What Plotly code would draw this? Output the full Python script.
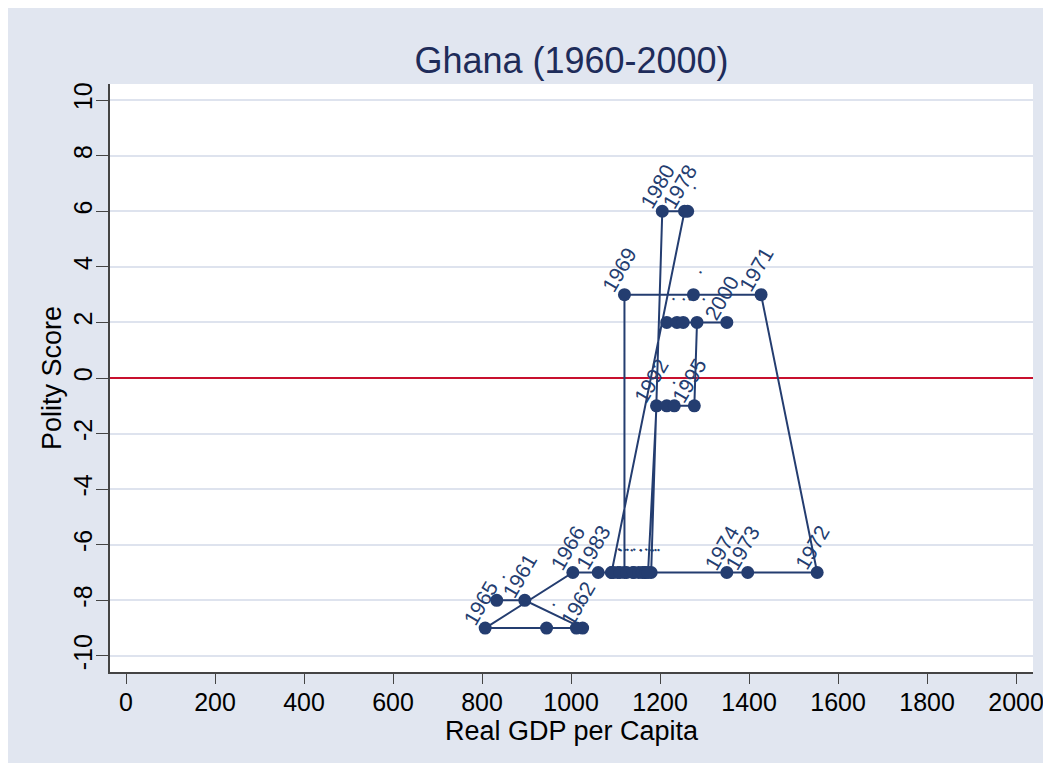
import plotly.graph_objects as go

# ---- data ----
years = list(range(1960, 2001))
gdp = [833, 896, 1026, 1012, 945, 807, 1004, 1091, 1120, 1120,
       1275, 1427, 1553, 1397, 1350, 1165, 1140, 1091, 1255, 1262,
       1205, 1180, 1105, 1061, 1095, 1110, 1125, 1140, 1152, 1160,
       1167, 1173, 1192, 1215, 1232, 1277, 1283, 1215, 1238, 1252,
       1350]
polity = [-8, -8, -9, -9, -9, -9, -7, -7, -7, 3,
          3, 3, -7, -7, -7, -7, -7, -7, 6, 6,
          6, -7, -7, -7, -7, -7, -7, -7, -7, -7,
          -7, -7, -1, -1, -1, -1, 2, 2, 2, 2,
          2]
labeled_years = [1961, 1962, 1965, 1966, 1969, 1971, 1972, 1973, 1974,
                 1978, 1980, 1983, 1992, 1995, 2000]
point_labels = [str(y) if y in labeled_years else "." for y in years]

x_ticks = list(range(0, 2001, 200))
y_ticks = list(range(-10, 11, 2))

NAVY = "#243D70"
BG = "#E1E6F0"
FONT = "Liberation Sans, Arial, sans-serif"

fig = go.Figure()
fig.add_trace(go.Scatter(
    x=gdp, y=polity, mode="lines+markers",
    line=dict(color=NAVY, width=2),
    marker=dict(color=NAVY, size=13),
    showlegend=False, hoverinfo="skip",
))

annotations = []
for xv, yv, lab in zip(gdp, polity, point_labels):
    if lab == ".":
        annotations.append(dict(x=xv, y=yv, xref="x", yref="y", text=".",
                                showarrow=False, textangle=-60,
                                font=dict(family=FONT, size=20, color=NAVY),
                                xshift=2, yshift=26))
    else:
        annotations.append(dict(x=xv, y=yv, xref="x", yref="y", text=lab,
                                showarrow=False, textangle=-60,
                                font=dict(family=FONT, size=21, color=NAVY),
                                xshift=-5, yshift=25))

W, H = 1035, 755
fig.update_layout(
    width=W, height=H,
    margin=dict(l=102, r=10, t=76, b=91, autoexpand=False),
    paper_bgcolor=BG,
    plot_bgcolor="white",
    font=dict(family=FONT, color="black"),
    title=dict(text="Ghana (1960-2000)", x=0.5, xref="paper", xanchor="center",
               y=1 - 52 / H, yref="container", yanchor="middle",
               font=dict(family=FONT, size=36, color="#1E2C5A")),
    annotations=annotations,
)
fig.update_xaxes(
    range=[-36, 2038], tickvals=x_ticks, ticktext=[str(v) for v in x_ticks],
    showgrid=False, zeroline=False, automargin=False,
    showline=True, linecolor="#444444", linewidth=1.5,
    ticks="outside", ticklen=10, tickcolor="#444444", tickwidth=1.2,
    ticklabelstandoff=-3, ticklabeloverflow="allow",
    tickfont=dict(family=FONT, size=25, color="black"),
    title=dict(text="Real GDP per Capita", font=dict(family=FONT, size=27, color="black"),
               standoff=0),
)
fig.update_yaxes(
    range=[-10.58, 10.58], tickvals=y_ticks, ticktext=[str(v) for v in y_ticks],
    tickangle=-90, automargin=False,
    showgrid=True, gridcolor="#DEE3EE", gridwidth=2,
    zeroline=True, zerolinecolor="#C8102E", zerolinewidth=2,
    showline=True, linecolor="#444444", linewidth=1.5,
    ticks="outside", ticklen=12, tickcolor="#444444", tickwidth=1.2,
    ticklabelstandoff=-6, ticklabeloverflow="allow",
    tickfont=dict(family=FONT, size=25, color="black"),
    title=dict(text="Polity Score", font=dict(family=FONT, size=27, color="black"),
               standoff=0),
)

fig.write_html("out.html")
